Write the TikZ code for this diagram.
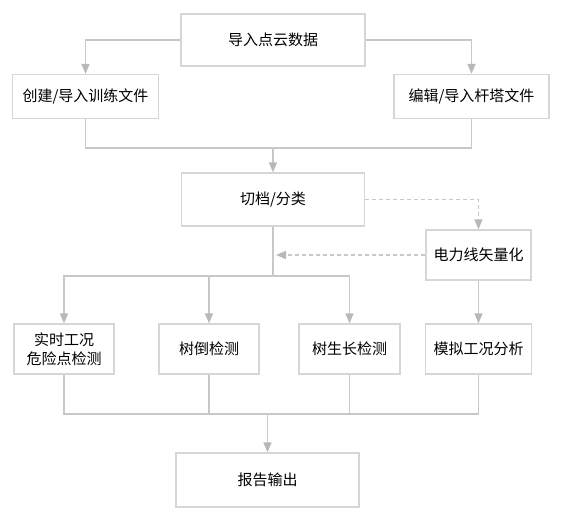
\documentclass[tikz,border=0pt]{standalone}
\usepackage{fontspec}
\usepackage{xcolor}
\usepackage{tikz}
\usetikzlibrary{arrows.meta}
\newfontfamily\cjk{Noto Sans CJK SC}
\definecolor{fcedge}{HTML}{D6D6D6}
\definecolor{fcwire}{HTML}{C8C8C8}
\definecolor{fctip}{HTML}{B8B8B8}
\tikzset{
  fcbox/.style={draw=fcedge, fill=white, line width=1.3pt, inner sep=0pt, align=center, font=\cjk\fontsize{15}{19}\selectfont},
  fcwire/.style={line width=1.4pt, draw=fcwire, line cap=butt},
  fcarrow/.style={fcwire, -{Triangle[width=8pt,length=10pt,fill=fctip,color=fctip]}},
  fcdash/.style={fcarrow, dash pattern=on 4pt off 3pt},
}
\begin{document}
\begin{tikzpicture}[x=1pt,y=-1pt]
\useasboundingbox (0,0) rectangle (562,519);
\node[fcbox, minimum width=184pt, minimum height=52pt] (load) at (273.000,40.000) {导入点云数据};
\node[fcbox, minimum width=146pt, minimum height=44pt] (train) at (85.500,96.500) {创建/导入训练文件};
\node[fcbox, minimum width=155pt, minimum height=44pt] (tower) at (471.500,96.500) {编辑/导入杆塔文件};
\node[fcbox, minimum width=183pt, minimum height=53pt] (cut) at (273.000,199.500) {切档/分类};
\node[fcbox, minimum width=105pt, minimum height=50pt] (vec) at (478.500,255.000) {电力线矢量化};
\node[fcbox, minimum width=100pt, minimum height=50pt] (live) at (64.000,349.000) {实时工况\\危险点检测};
\node[fcbox, minimum width=100pt, minimum height=50pt] (fall) at (209.000,349.000) {树倒检测};
\node[fcbox, minimum width=101pt, minimum height=50pt] (grow) at (349.500,349.000) {树生长检测};
\node[fcbox, minimum width=106pt, minimum height=50pt] (sim) at (478.500,349.000) {模拟工况分析};
\node[fcbox, minimum width=183pt, minimum height=54pt] (report) at (267.500,480.000) {报告输出};
\coordinate (mergetop) at (273.000,148.000);
\coordinate (backtip) at (276.000,255.000);
\coordinate (split) at (273.000,276.000);
\coordinate (mergelow) at (267.500,414.000);
\draw[fcarrow] (load.west) -| (train.north);
\draw[fcarrow] (load.east) -| (tower.north);
\draw[fcwire] (train.south) |- (mergetop) -| (tower.south);
\draw[fcarrow] (mergetop) -- (cut.north);
\draw[fcdash] (cut.east) -| (vec.north);
\draw[fcdash] (vec.west) -- (backtip);
\draw[fcwire] (cut.south) -- (split);
\draw[fcarrow] (split) -| (live.north);
\draw[fcarrow] (split) -| (fall.north);
\draw[fcarrow] (split) -| (grow.north);
\draw[fcarrow] (vec.south) -- (sim.north);
\draw[fcwire] (live.south) |- (mergelow);
\draw[fcwire] (fall.south) |- (mergelow);
\draw[fcwire] (grow.south) |- (mergelow);
\draw[fcwire] (sim.south) |- (mergelow);
\draw[fcarrow] (mergelow) -- (report.north);
\end{tikzpicture}
\end{document}
